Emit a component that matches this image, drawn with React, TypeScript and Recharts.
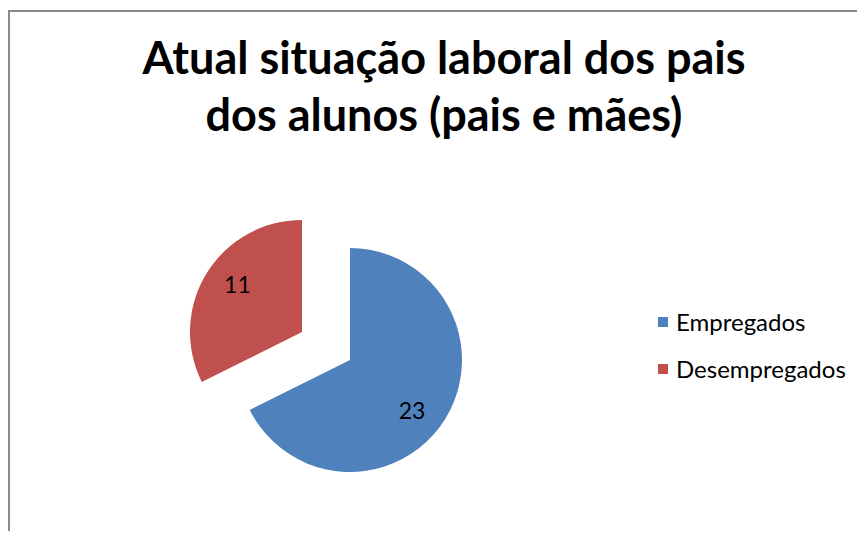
import { PieChart, Pie, Cell, Legend } from "recharts";

const categories = ["Empregados", "Desempregados"];
const counts = [23, 11];
const colors = ["#4F81BD", "#C0504D"];

const titleLines = ["Atual situação laboral dos pais", "dos alunos (pais e mães)"];

const data = categories.map((name, i) => ({ name, value: counts[i] }));

const FONT = "Lato, 'Open Sans', sans-serif";
const RADIAN = Math.PI / 180;

// label only for the slice that this pie actually shows
function makeLabel(visible: number, frac: number, tilt: number) {
  return (p: any) => {
    if (p.index !== visible) return null;
    const r = p.outerRadius * frac;
    const a = (p.midAngle + tilt) * RADIAN;
    const x = p.cx + r * Math.cos(-a);
    const y = p.cy + r * Math.sin(-a);
    return (
      <text x={x} y={y} fill="#000" fontSize={23} fontFamily={FONT} textAnchor="middle" dominantBaseline="central">
        {p.value}
      </text>
    );
  };
}

function LegendBox() {
  return (
    <div style={{ fontFamily: FONT, fontSize: 24, color: "#000" }}>
      {categories.map((c, i) => (
        <div key={c} style={{ display: "flex", alignItems: "center", height: 47 }}>
          <span style={{ width: 10, height: 10, background: colors[i], marginRight: 8, display: "inline-block" }} />
          {c}
        </div>
      ))}
    </div>
  );
}

export default function App() {
  return (
    <div
      style={{
        position: "relative",
        top: 2,
        width: 857,
        height: 521,
        borderLeft: "2px solid #8c8c8c",
        borderTop: "2px solid #8c8c8c",
        background: "#fff",
      }}
    >
      <div
        style={{
          position: "absolute",
          left: 34,
          top: 17,
          width: 800,
          textAlign: "center",
          fontFamily: FONT,
          fontWeight: 700,
          fontSize: 45,
          lineHeight: "57px",
          color: "#000",
        }}
      >
        {titleLines.map((t) => (
          <div key={t}>{t}</div>
        ))}
      </div>
      <PieChart width={855} height={519} style={{ position: "absolute", left: 0, top: 0 }}>
        <Pie
          data={data}
          dataKey="value"
          cx={335}
          cy={343}
          outerRadius={112}
          startAngle={90}
          endAngle={-270}
          stroke="none"
          isAnimationActive={false}
          labelLine={false}
          label={makeLabel(0, 0.71, -7)}
        >
          {data.map((d, i) => (
            <Cell key={d.name} fill={i === 0 ? colors[0] : "transparent"} />
          ))}
        </Pie>
        <Pie
          data={data}
          dataKey="value"
          cx={287}
          cy={315}
          outerRadius={112}
          startAngle={90}
          endAngle={-270}
          stroke="none"
          isAnimationActive={false}
          labelLine={false}
          label={makeLabel(1, 0.72, -5)}
        >
          {data.map((d, i) => (
            <Cell key={d.name} fill={i === 1 ? colors[1] : "transparent"} />
          ))}
        </Pie>
        <Legend
          layout="vertical"
          content={<LegendBox />}
          wrapperStyle={{ position: "absolute", left: 648, top: 286, width: 210 }}
        />
      </PieChart>
    </div>
  );
}
